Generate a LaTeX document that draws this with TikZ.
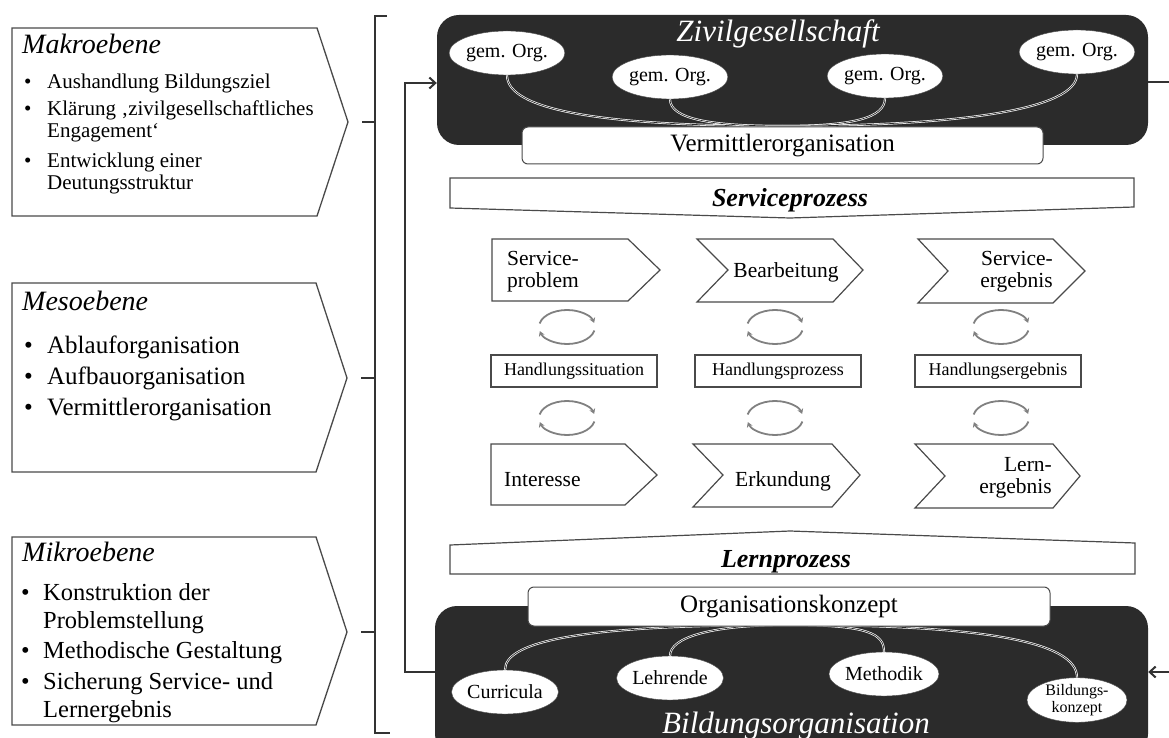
\documentclass[tikz,border=0pt]{standalone}
\usepackage{fontspec}
\setmainfont{Liberation Serif}
\usepackage{tikz}
\usetikzlibrary{positioning}
\usetikzlibrary{shapes.geometric}
\usetikzlibrary{arrows.meta}

\definecolor{boxgray}{HTML}{2B2B2B}
\definecolor{edgegray}{HTML}{4A4A4A}
\newcommand{\fsz}[2]{\fontsize{#1}{#2}\selectfont}
\newcommand{\lvbul}[1]{\makebox[#1][l]{\textbullet}}

\tikzset{
  levelbox/.style={draw=edgegray, line width=1.3pt, fill=white},
  leveltitle/.style={anchor=base west, inner sep=0pt, font=\fsz{28}{32}\itshape},
  levellist/.style={anchor=base west, inner sep=0pt},
  darkbox/.style={fill=boxgray, rounded corners=22pt, inner sep=0pt},
  darktitle/.style={anchor=base, text=white, inner sep=0pt, font=\fsz{31}{36}\itshape},
  org/.style={ellipse, fill=white, draw=edgegray, inner sep=0pt, minimum width=100pt, minimum height=44pt, font=\fsz{20}{22}},
  tie/.style={draw=white, double=boxgray, double distance=0.7pt, line width=0.7pt},
  strip/.style={draw=edgegray, line width=1pt, fill=white, rounded corners=6pt, inner sep=0pt, font=\fsz{25}{30}},
  procbox/.style={draw=edgegray, line width=1.2pt, fill=white},
  proctitle/.style={anchor=base, inner sep=0pt, font=\fsz{26}{30}\bfseries\itshape},
  stepshape/.style={draw=edgegray, line width=1.2pt, fill=white},
  steptext/.style={inner sep=0pt, font=\fsz{21.5}{22}},
  actbox/.style={draw=edgegray, line width=1.2pt, fill=white, minimum width=166pt, minimum height=32pt, inner sep=0pt, font=\fsz{18}{20}},
  cyc/.style={draw=gray, line width=1.8pt, -{Stealth[length=5pt,width=6pt]}},
  braceline/.style={draw=black!80, line width=2pt},
  fb/.style={braceline, -{Straight Barb[length=6pt,width=11pt]}},
}

\begin{document}
\begin{tikzpicture}[x=1pt, y=-1pt]

  \path[use as bounding box] (0,0) rectangle (1169,738);
  \clip (0,0) rectangle (1169,738);

  % Ebenen links
  \draw[levelbox] (12,28) -- (317,28) -- (348,122) -- (317,216) -- (12,216) -- cycle;
  \draw[levelbox] (12,283) -- (316,283) -- (347,378) -- (316,472) -- (12,472) -- cycle;
  \draw[levelbox] (12,537) -- (316,537) -- (347,632) -- (316,725) -- (12,725) -- cycle;
  \coordinate (makrotip) at (348,122);
  \coordinate (mesotip) at (347,378);
  \coordinate (mikrotip) at (347,632);

  \node[leveltitle] (makro) at (22,54) {Makroebene};
  \node[leveltitle] (meso) at (22,310) {Mesoebene};
  \node[leveltitle] (mikro) at (22,561) {Mikroebene};

  \node[levellist, font=\fsz{21}{22.5}] (makrolist) at (24,89) {%
    \begin{tabular}[t]{@{}l@{}l@{}}
      \lvbul{23pt} & Aushandlung Bildungsziel\\[4pt]
      \lvbul{23pt} & Klärung ‚zivilgesellschaftliches\\
                   & Engagement‘\\[7pt]
      \lvbul{23pt} & Entwicklung einer\\
                   & Deutungsstruktur
    \end{tabular}};
  \node[levellist, font=\fsz{25}{31}] (mesolist) at (24,353) {%
    \begin{tabular}[t]{@{}l@{}l@{}}
      \lvbul{23pt} & Ablauforganisation\\
      \lvbul{23pt} & Aufbauorganisation\\
      \lvbul{23pt} & Vermittlerorganisation
    \end{tabular}};
  \node[levellist, font=\fsz{24.5}{28}] (mikrolist) at (21,600) {%
    \begin{tabular}[t]{@{}l@{}l@{}}
      \lvbul{22pt} & Konstruktion der\\
                   & Problemstellung\\[2pt]
      \lvbul{22pt} & Methodische Gestaltung\\[3pt]
      \lvbul{22pt} & Sicherung Service- und\\
                   & Lernergebnis
    \end{tabular}};

  % Klammer
  \coordinate (brtop) at (375,16);
  \coordinate (brbot) at (375,733);
  \draw[braceline] ([xshift=12pt]brtop) -- (brtop) -- (brbot) -- ([xshift=15pt]brbot);
  \draw[braceline] ([xshift=14pt]makrotip) -- (makrotip -| brtop);
  \draw[braceline] ([xshift=14pt]mesotip) -- (mesotip -| brtop);
  \draw[braceline] ([xshift=14pt]mikrotip) -- (mikrotip -| brtop);

  % Zivilgesellschaft
  \node[darkbox, minimum width=711pt, minimum height=130pt] (zivil) at (792.5,80) {};
  \node[darktitle] (ziviltitle) at (778,42) {Zivilgesellschaft};
  \node[org] (g1) at (507,53) {gem. Org.};
  \node[org] (g2) at (670,77) {gem. Org.};
  \node[org] (g3) at (885,76) {gem. Org.};
  \node[org] (g4) at (1077,52) {gem. Org.};
  \coordinate (vmerge) at (782,126);
  \draw[tie] (vmerge) .. controls +(-180,0) and +(0,35) .. (g1.south);
  \draw[tie] (vmerge) .. controls +(-70,0) and +(0,20) .. (g2.south);
  \draw[tie] (vmerge) .. controls +(70,0) and +(0,20) .. (g3.south);
  \draw[tie] (vmerge) .. controls +(180,0) and +(0,35) .. (g4.south);
  \node[strip, minimum width=521pt, minimum height=37pt] (verm) at (782.5,145.5) {Vermittlerorganisation};

  % Serviceprozess
  \draw[procbox] (450,178) -- (1134,178) -- (1134,207) -- (790,218) -- (450,208) -- cycle;
  \node[proctitle] (service) at (790,207) {Serviceprozess};

  % Schritte
  \draw[stepshape] (492,239) -- (628,239) -- (660,270) -- (628,301) -- (492,301) -- cycle;
  \draw[stepshape] (697,239) -- (833,239) -- (863,270) -- (833,302) -- (697,302) -- (728,270) -- cycle;
  \draw[stepshape] (918,239) -- (1053,239) -- (1085,271) -- (1053,303) -- (918,303) -- (948,271) -- cycle;
  \draw[stepshape] (491,444) -- (625,444) -- (657,475) -- (625,505) -- (491,505) -- cycle;
  \draw[stepshape] (693,444) -- (832,444) -- (860,475) -- (832,507) -- (693,507) -- (723,475) -- cycle;
  \draw[stepshape] (915,444) -- (1053,444) -- (1080,476) -- (1053,508) -- (915,508) -- (945,476) -- cycle;

  \node[steptext, anchor=west, align=left] (sproblem) at (507,272) {Service-\\problem};
  \node[steptext, anchor=base] (bearb) at (786,277) {Bearbeitung};
  \node[steptext, anchor=east, align=right] (sergebnis) at (1053,272) {Service-\\ergebnis};
  \node[steptext, anchor=base west] (interesse) at (504,486) {Interesse};
  \node[steptext, anchor=base] (erkund) at (783,486) {Erkundung};
  \node[steptext, anchor=east, align=right] (lergebnis) at (1052,478) {Lern-\\ergebnis};

  \node[actbox] (hsit) at (574,371) {Handlungssituation};
  \node[actbox] (hproz) at (778,371) {Handlungsprozess};
  \node[actbox] (herg) at (998,371) {Handlungsergebnis};

  % Kreislaeufe
  \foreach \cx in {567,775,1001}
    \foreach \cy in {327,418} {
      \draw[cyc] (\cx,\cy) ++(-168:28 and 17) arc[start angle=-168, end angle=-14, x radius=28, y radius=17];
      \draw[cyc] (\cx,\cy) ++(12:28 and 17) arc[start angle=12, end angle=166, x radius=28, y radius=17];
    }

  % Lernprozess
  \draw[procbox] (450,545) -- (790,531) -- (1135,543) -- (1135,574) -- (450,574) -- cycle;
  \node[proctitle] (lern) at (786,567) {Lernprozess};

  % Bildungsorganisation
  \node[darkbox, minimum width=713pt, minimum height=150pt] (bild) at (791.5,681) {};
  \node[darktitle] (bildtitle) at (796,733) {Bildungsorganisation};
  \node[org] (curr) at (505,692) {Curricula};
  \node[org] (lehr) at (670,678) {Lehrende};
  \node[org] (meth) at (884,674) {Methodik};
  \node[org, align=center, font=\fsz{16}{17}] (bkonz) at (1077,700) {Bildungs-\\konzept};
  \coordinate (omerge) at (789,625);
  \draw[tie] (omerge) .. controls +(-200,0) and +(0,-30) .. (curr.north);
  \draw[tie] (omerge) .. controls +(-80,0) and +(0,-18) .. (lehr.north);
  \draw[tie] (omerge) .. controls +(80,0) and +(0,-18) .. (meth.north);
  \draw[tie] (omerge) .. controls +(200,0) and +(0,-35) .. (bkonz.north);
  \node[strip, minimum width=522pt, minimum height=39pt] (orgk) at (789,606.5) {Organisationskonzept};

  % Rueckkopplung
  \draw[fb] ([yshift=9pt]bild.west) -- ++(-30,0) |- ([yshift=-3pt]zivil.west);
  \draw[fb] ([yshift=-2pt]zivil.east) -- ++(40,0) |- ([yshift=9pt]bild.east);

\end{tikzpicture}
\end{document}
